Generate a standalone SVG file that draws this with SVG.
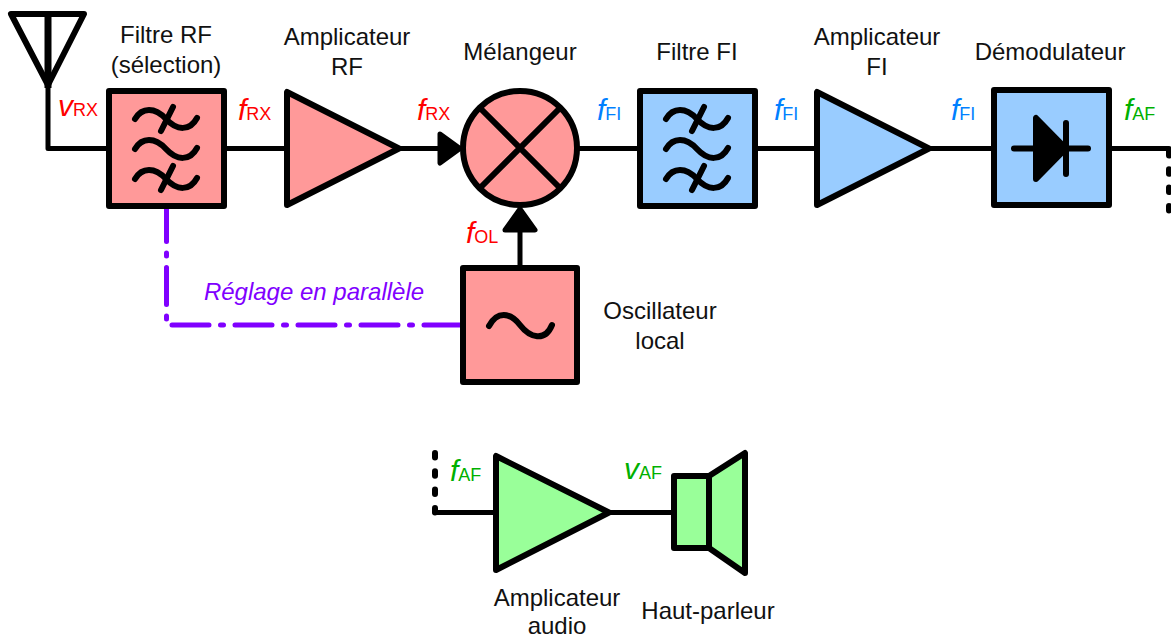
<svg xmlns="http://www.w3.org/2000/svg" width="1171" height="639" viewBox="0 0 1171 639">
<style>
text{font-family:"Liberation Sans",Arial,sans-serif;fill:#111;font-size:24px;text-anchor:middle}
.b{stroke:#000;stroke-width:6;stroke-linejoin:round;stroke-linecap:round}
.l{fill:none;stroke:#000;stroke-width:5;stroke-linecap:round;stroke-linejoin:round}
.d{fill:none;stroke:#000;stroke-width:6;stroke-linecap:round;stroke-dasharray:4.500 13.800}
.s{fill:none;stroke:#000;stroke-width:6;stroke-linecap:round}
.r{fill:#ff9999}.u{fill:#99ccff}.g{fill:#99ff99}
.lab{text-anchor:start;font-size:18px}
.lab .i{font-style:italic;font-size:30px}
.cr{fill:#ff0000}.cb{fill:#0080ff}.cg{fill:#00b000}
</style>
<defs>
<g id="tilde"><path class="s" d="M135 119C142 107 155 107 166 119S190 131 197 118"/></g>
<g id="filt"><use href="#tilde"/><use href="#tilde" y="30"/><use href="#tilde" y="60"/><path class="s" d="M173 107L161 131M173 166L161 190"/></g>
</defs>
<g id="connectors">
<path class="l" d="M48 86V148.500H107M226 148.500H285M401 148.500H440"/>
<path d="M440 134L460 148.500L440 163Z" stroke="#000" stroke-width="5" stroke-linejoin="round"/>
<path class="l" d="M579 148.500H638M757 148.500H816M930 148.500H992M1111 148.500H1169"/>
<path class="l" d="M520 230V266"/>
<path d="M505 230L520 209L535 230Z" stroke="#000" stroke-width="5" stroke-linejoin="round"/>
<path class="d" d="M1169 151V212"/>
<path class="d" d="M435 453V513"/>
<path class="l" d="M435 512.500H495M610 512.500H672"/>
<path fill="none" stroke="#8000ff" stroke-width="5" stroke-linecap="round" stroke-linejoin="round" stroke-dasharray="37 11.500 3 11.500" stroke-dashoffset="4.500" d="M166.500 209V325H461"/>
</g>
<g id="antenna">
<path d="M11 14H84L48 85Z" fill="none" stroke="#000" stroke-width="6" stroke-linejoin="round"/>
<path fill="none" stroke="#000" stroke-width="7" d="M48 14V88"/>
</g>
<g id="filtre-rf">
<rect class="b r" x="109" y="91" width="115" height="115"/>
<use href="#filt"/>
<text x="166" y="43">Filtre RF</text><text x="166" y="73">(sélection)</text>
</g>
<g id="ampli-rf">
<path class="b r" d="M287 92V205L399 148.500Z"/>
<text x="347" y="45">Amplicateur</text><text x="347" y="75">RF</text>
</g>
<g id="melangeur">
<circle class="b r" cx="520" cy="148" r="57"/>
<path d="M480 108L560 188M560 108L480 188" stroke="#000" stroke-width="6"/>
<text x="520" y="60">Mélangeur</text>
</g>
<g id="oscillateur">
<rect class="b r" x="463" y="268" width="114" height="114"/>
<path class="s" d="M489 326C497 311 510 312 520 325S545 342 552 325"/>
<text x="660" y="319">Oscillateur</text><text x="660" y="349">local</text>
</g>
<g id="filtre-fi">
<rect class="b u" x="640" y="91" width="115" height="115"/>
<use href="#filt" x="531"/>
<text x="697" y="60">Filtre FI</text>
</g>
<g id="ampli-fi">
<path class="b u" d="M817 92V205L929 148.500Z"/>
<text x="877" y="45">Amplicateur</text><text x="877" y="75">FI</text>
</g>
<g id="demodulateur">
<rect class="b u" x="994" y="90" width="115" height="115"/>
<path d="M1036 118V179L1066 148.500Z" stroke="#000" stroke-width="6" stroke-linejoin="round"/>
<path class="s" d="M1014 148.500H1088M1066 123V174"/>
<text x="1050" y="60">Démodulateur</text>
</g>
<g id="ampli-audio">
<path class="b g" d="M496 456V570L609 512.500Z"/>
<text x="557" y="606">Amplicateur</text><text x="557" y="634">audio</text>
</g>
<g id="haut-parleur">
<path class="b g" d="M709 476L745 453V573L709 548Z"/>
<rect class="b g" x="674" y="476" width="35" height="72"/>
<text x="708" y="619">Haut-parleur</text>
</g>
<g id="labels">
<text class="lab cr" x="58" y="116"><tspan class="i">v</tspan>RX</text>
<text class="lab cr" x="238" y="120"><tspan class="i">f</tspan>RX</text>
<text class="lab cr" x="417" y="120"><tspan class="i">f</tspan>RX</text>
<text class="lab cb" x="597" y="120"><tspan class="i">f</tspan>FI</text>
<text class="lab cb" x="774" y="120"><tspan class="i">f</tspan>FI</text>
<text class="lab cb" x="951" y="120"><tspan class="i">f</tspan>FI</text>
<text class="lab cg" x="1124" y="120"><tspan class="i">f</tspan>AF</text>
<text class="lab cr" x="466" y="243"><tspan class="i">f</tspan>OL</text>
<text class="lab cg" x="450" y="481"><tspan class="i">f</tspan>AF</text>
<text class="lab cg" x="624" y="479"><tspan class="i">v</tspan>AF</text>
<text x="314" y="300" style="fill:#8000ff;font-style:italic;font-size:24px">Réglage en parallèle</text>
</g>
</svg>
